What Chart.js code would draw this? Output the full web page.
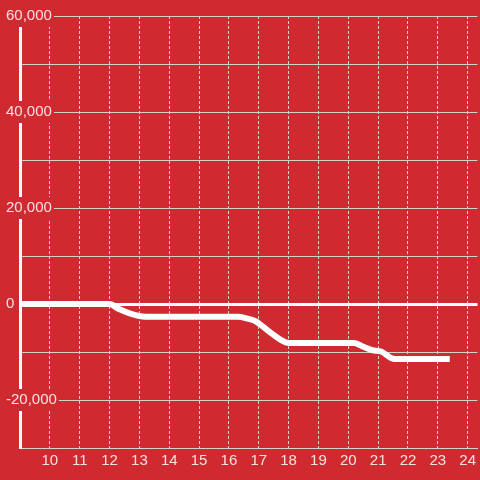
<!DOCTYPE html>
<html>
<head>
<meta charset="utf-8">
<script src="https://cdn.jsdelivr.net/npm/chart.js@4/dist/chart.umd.min.js"></script>
<style>
  html, body { margin: 0; padding: 0; background: #ce2a30; }
  #wrap { width: 480px; height: 480px; }
</style>
</head>
<body>
<div id="wrap"><canvas id="line-chart"></canvas></div>
<script>
const bg = '#ce2a30'
const gridColor = '#d2d2d2'
const textColor = 'rgba(255, 255, 255, 0.86)'

// hour of day and running value
const hours = [9, 12, 12.3, 12.7, 13.2, 16.3, 16.6, 16.9, 17.4, 18, 20.2, 20.5, 20.8, 21.1, 21.55, 23.4]
const values = [0, 0, -1000, -2000, -2650, -2650, -3000, -3600, -6000, -8100, -8100, -8900, -9600, -9900, -11450, -11450]

const ctx = document.getElementById('line-chart').getContext('2d')

const config = {
    type: 'line',
    data: {
        datasets: [{
            data: hours.map((h, i) => ({ x: h, y: values[i] })),
            borderColor: '#ffffff',
            borderWidth: 6,
            pointRadius: 0,
            fill: false,
            cubicInterpolationMode: 'monotone'
        }]
    },
    options: {
        responsive: true,
        maintainAspectRatio: false,
        animation: false,
        layout: { padding: { top: 16, left: 6, right: 0, bottom: 0 } },
        plugins: {
            legend: { display: false },
            tooltip: { enabled: false }
        },
        scales: {
            x: {
                type: 'linear',
                min: 9,
                max: 24.33,
                afterFit: scale => { scale.height = 32 },
                grid: { color: gridColor, lineWidth: 1, drawTicks: false },
                border: { color: gridColor, width: 1, dash: [3, 2] },
                ticks: {
                    stepSize: 1,
                    includeBounds: false,
                    maxRotation: 0,
                    autoSkip: false,
                    padding: 4,
                    color: textColor,
                    font: { size: 15 },
                    callback: v => v >= 10 ? v : ''
                }
            },
            y: {
                min: -30000,
                max: 60000,
                afterFit: scale => { scale.width = 14 },
                grid: {
                    color: ctx => ctx.tick && ctx.tick.value === 0 ? '#ffffff' : gridColor,
                    lineWidth: ctx => ctx.tick && ctx.tick.value === 0 ? 3 : 1,
                    drawTicks: false
                },
                border: { color: '#ffffff', width: 3 },
                ticks: {
                    stepSize: 10000,
                    mirror: true,
                    padding: -14,
                    color: textColor,
                    font: { size: 15 },
                    showLabelBackdrop: true,
                    backdropColor: bg,
                    backdropPadding: 2,
                    callback: v => v % 20000 === 0 ? v.toLocaleString('en-US') : ''
                }
            }
        }
    }
}

new Chart(ctx, config)
</script>
</body>
</html>
